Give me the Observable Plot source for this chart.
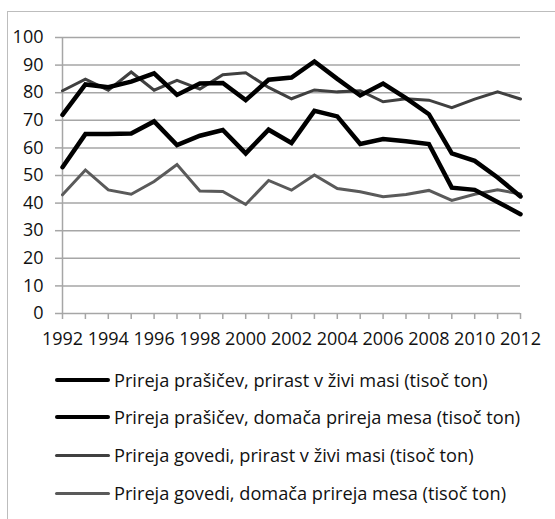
<!DOCTYPE html>
<html>
<head>
<meta charset="utf-8">
<script src="https://cdn.jsdelivr.net/npm/d3@7"></script>
<script src="https://cdn.jsdelivr.net/npm/@observablehq/plot@0.6"></script>
<style>
  html, body { margin: 0; padding: 0; background: #fff; }
  #wrap { position: relative; width: 555px; height: 519px; overflow: hidden; font-family: "Open Sans", Lato, sans-serif; }
  #frame { position: absolute; left: 7px; top: 11px; width: 600px; height: 600px; border-left: 1.5px solid #bdbdbd; border-top: 1.5px solid #bdbdbd; }
  #chart { position: absolute; left: 0; top: 0; }
  .leg { position: absolute; left: 55px; height: 24px; display: flex; align-items: center; font-size: 18.2px; color: #111; white-space: nowrap; }
  .leg .sw { width: 55px; margin-right: 4px; border-radius: 2px; }
</style>
</head>
<body>
<div id="wrap">
  <div id="frame"></div>
  <div id="chart"></div>
  <div id="legend"></div>
</div>
<script>
const years = d3.range(1992, 2013);
const seriesNames = [
  "Prireja prašičev, prirast v živi masi (tisoč ton)",
  "Prireja prašičev, domača prireja mesa (tisoč ton)",
  "Prireja govedi, prirast v živi masi (tisoč ton)",
  "Prireja govedi, domača prireja mesa (tisoč ton)"
];
const pigLive =   [72, 83, 82, 84, 87, 79.2, 83.3, 83.5, 77.3, 84.7, 85.5, 91.3, 85, 79, 83.3, 78, 72.2, 58, 55.3, 49.3, 42.4];
const pigMeat =   [53, 65, 65, 65.2, 69.6, 61, 64.4, 66.5, 58, 66.6, 61.8, 73.4, 71.4, 61.4, 63.2, 62.4, 61.4, 45.6, 44.8, 40.4, 36];
const cattleLive = [80.7, 84.9, 80.9, 87.5, 80.9, 84.5, 81.3, 86.5, 87.2, 81.9, 77.8, 81, 80.3, 80.7, 76.7, 77.8, 77.3, 74.6, 77.7, 80.3, 77.7];
const cattleMeat = [43, 52, 44.8, 43.2, 47.8, 54, 44.4, 44.2, 39.5, 48.2, 44.7, 50.2, 45.3, 44.1, 42.3, 43.1, 44.6, 41, 43.2, 44.8, 43.3];
const yTicks = d3.range(0, 101, 10);
const xLabelYears = years.filter(y => y % 2 === 0);

const colors = ["#000000", "#000000", "#404040", "#5a5a5a"];
const widths = [4.5, 4.5, 3, 3];
const allValues = [pigLive, pigMeat, cattleLive, cattleMeat];

const rows = [];
allValues.forEach((vals, i) => vals.forEach((v, j) => rows.push({series: seriesNames[i], year: years[j], value: v, idx: i})));

const lineMarks = [3, 2, 1, 0].map(i =>
  Plot.line(rows.filter(r => r.idx === i), {x: "year", y: "value", stroke: colors[i], strokeWidth: widths[i], strokeLinejoin: "miter", strokeMiterlimit: 3})
);

const chart = Plot.plot({
  width: 555,
  height: 360,
  marginLeft: 62,
  marginRight: 35,
  marginTop: 37,
  marginBottom: 47,
  style: {fontFamily: "'Open Sans', Lato, sans-serif", fontSize: "18px", color: "#111", background: "transparent"},
  x: {domain: [1992, 2012], label: null},
  y: {domain: [0, 100], label: null},
  marks: [
    Plot.ruleY(yTicks, {y: d => d, x1: 1992, x2: 2012, stroke: "#a6a6a6", strokeWidth: 1.5}),
    Plot.axisY({ticks: yTicks, tickSize: 7, tickPadding: 12, stroke: "#a6a6a6", strokeWidth: 1.5, fill: "#111"}),
    Plot.ruleX([1992], {y1: 0, y2: 100, stroke: "#a6a6a6", strokeWidth: 1.5}),
    Plot.axisX({ticks: years, tickSize: 6, tickPadding: 13, stroke: "#a6a6a6", strokeWidth: 1.5, fill: "#111",
      tickFormat: d => xLabelYears.includes(d) ? String(d) : ""}),
    ...lineMarks
  ]
});
document.getElementById("chart").appendChild(chart);

const legendTops = [380, 417, 455, 493];
const legend = document.getElementById("legend");
seriesNames.forEach((name, i) => {
  const row = document.createElement("div");
  row.className = "leg";
  row.style.top = (legendTops[i] - 12) + "px";
  const sw = document.createElement("div");
  sw.className = "sw";
  sw.style.height = widths[i] + "px";
  sw.style.background = colors[i];
  const tx = document.createElement("span");
  tx.textContent = name;
  row.appendChild(sw);
  row.appendChild(tx);
  legend.appendChild(row);
});
</script>
</body>
</html>
